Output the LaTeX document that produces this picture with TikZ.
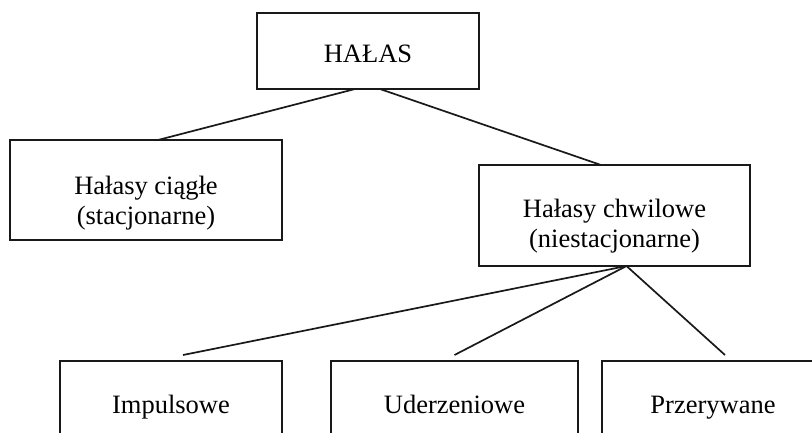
\documentclass[tikz,border=0pt]{standalone}
\usepackage{fontspec}
\setmainfont{Liberation Serif}
\begin{document}
\begin{tikzpicture}[x=1pt,y=-1pt,
  box/.style={draw=black!90, line width=1.7pt, inner sep=0pt, outer sep=0pt, anchor=north west},
  lbl/.style={inner sep=0pt, anchor=base, font=\fontsize{26.5}{30}\selectfont},
  link/.style={draw=black!90, line width=1.7pt}]
\useasboundingbox (0,0) rectangle (812,432);
\clip (0,0) rectangle (812,432);

% boxes
\node[box, minimum width=222, minimum height=76]  (halas)    at (257,13)  {};
\node[box, minimum width=272, minimum height=100] (ciagle)   at (10,140)  {};
\node[box, minimum width=271, minimum height=101] (chwilowe) at (479,165) {};
\node[box, minimum width=222, minimum height=100] (impuls)   at (60,361)  {};
\node[box, minimum width=247, minimum height=100] (uderz)    at (331,361) {};
\node[box, minimum width=222, minimum height=100] (przer)    at (602,361) {};

% labels
\node[lbl] (tHalas)  at (368,62)    {HAŁAS};
\node[lbl] (tCiag1)  at (146,194)   {Hałasy ciągłe};
\node[lbl] (tCiag2)  at (146,224)   {(stacjonarne)};
\node[lbl] (tChw1)   at (614.5,217) {Hałasy chwilowe};
\node[lbl] (tChw2)   at (614.5,247) {(niestacjonarne)};
\node[lbl] (tImp)    at (171,413)   {Impulsowe};
\node[lbl] (tUde)    at (454.5,413) {Uderzeniowe};
\node[lbl] (tPrz)    at (713,413)   {Przerywane};

% connectors
\draw[link] ([xshift=-13pt]halas.south) -- ([xshift=12pt]ciagle.north);
\draw[link] ([xshift=12pt]halas.south) -- ([xshift=-13.5pt]chwilowe.north);
\draw[link] ([xshift=12pt]chwilowe.south) -- ([xshift=12pt,yshift=6pt]impuls.north);
\draw[link] ([xshift=12pt]chwilowe.south) -- ([yshift=6pt]uderz.north);
\draw[link] ([xshift=12pt]chwilowe.south) -- ([xshift=12pt,yshift=6pt]przer.north);
\end{tikzpicture}
\end{document}
